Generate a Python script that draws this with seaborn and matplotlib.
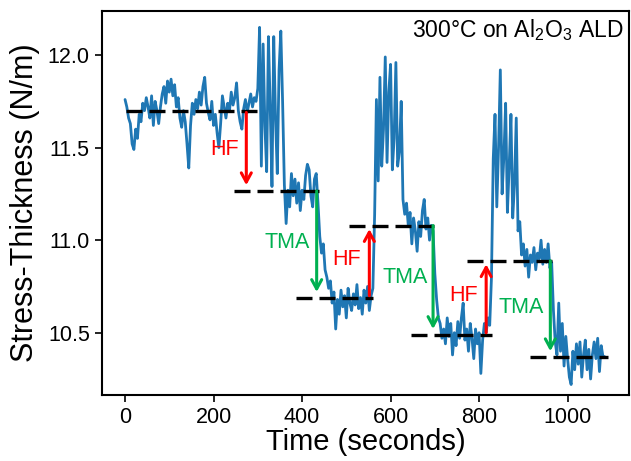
import numpy as np
import pandas as pd
import matplotlib
matplotlib.use("Agg")
import matplotlib.pyplot as plt
import seaborn as sns

# ---- data ----
time_s = np.arange(0, 1088, 4)
stress = [
    11.76, 11.72, 11.66, 11.63, 11.52, 11.49, 11.60, 11.55, 11.68, 11.64, 11.74, 11.70, 11.77, 11.72, 11.66, 11.78, 11.62, 11.75, 11.70, 11.63, 11.72, 11.79, 11.83, 11.74, 11.86,
    11.80, 11.87, 11.78, 11.84, 11.72, 11.77, 11.66, 11.61, 11.70, 11.64, 11.52, 11.39, 11.62, 11.74, 11.68, 11.76, 11.71, 11.80, 11.73, 11.83, 11.88, 11.74, 11.69, 11.65, 11.75,
    11.62, 11.68, 11.58, 11.50, 11.63, 11.78, 11.72, 11.66, 11.74, 11.70, 11.80, 11.73, 11.77, 11.85, 11.70, 11.64, 11.60, 11.71, 11.76, 11.69, 11.74, 11.79, 11.72, 11.77, 11.75,
    11.82, 12.15, 11.40, 12.06, 11.62, 11.37, 12.10, 11.72, 11.29, 12.10, 11.66, 11.36, 11.92, 12.13, 11.75, 11.30, 11.09, 11.27, 11.18, 11.36, 11.24, 11.33, 11.20, 11.31, 11.16,
    11.27, 11.22, 11.35, 11.41, 11.38, 11.24, 11.18, 11.33, 11.36, 11.20, 11.02, 10.93, 10.98, 10.84, 10.80, 10.74, 10.78, 10.66, 10.72, 10.52, 10.68, 10.60, 10.73, 10.64, 10.70,
    10.58, 10.74, 10.66, 10.62, 10.71, 10.65, 10.76, 10.63, 10.69, 10.60, 10.73, 10.66, 10.75, 10.62, 10.70, 10.74, 11.14, 11.76, 11.32, 11.88, 11.40, 11.60, 11.99, 11.42, 11.80,
    11.95, 11.38, 11.55, 11.96, 11.40, 11.48, 11.75, 11.22, 11.14, 11.20, 11.08, 11.15, 10.98, 11.12, 11.05, 10.94, 11.10, 11.02, 11.16, 11.22, 11.06, 11.12, 11.00, 11.08, 11.05,
    10.82, 10.68, 10.58, 10.55, 10.47, 10.52, 10.44, 10.58, 10.48, 10.55, 10.38, 10.50, 10.43, 10.56, 10.47, 10.58, 10.66, 10.46, 10.52, 10.40, 10.55, 10.47, 10.36, 10.52, 10.44,
    10.50, 10.28, 10.46, 10.55, 10.50, 10.58, 10.54, 10.80, 11.44, 11.68, 11.18, 11.50, 11.92, 11.25, 11.45, 11.74, 11.15, 11.40, 11.68, 11.12, 11.30, 11.66, 11.05, 11.10, 10.92,
    10.98, 10.86, 10.95, 10.80, 10.92, 10.88, 10.96, 10.84, 10.93, 10.90, 11.00, 10.87, 10.95, 10.88, 10.98, 10.85, 10.88, 10.62, 10.45, 10.38, 10.66, 10.40, 10.55, 10.32, 10.48,
    10.36, 10.26, 10.22, 10.40, 10.30, 10.44, 10.33, 10.45, 10.26, 10.38, 10.46, 10.30, 10.41, 10.25, 10.38, 10.45, 10.36, 10.47, 10.29, 10.43, 10.37, 10.37,
]

level_values = [11.70, 11.266, 10.686, 11.079, 10.489, 10.889, 10.369]
level_start = [3, 246, 386, 507, 647, 772, 914]
level_end = [303, 440, 561, 700, 829, 969, 1092]

arrow_labels = ["HF", "TMA", "HF", "TMA", "HF", "TMA"]
arrow_x = [274, 433, 552, 696, 816, 961]
arrow_from = [11.69, 11.266, 10.70, 11.079, 10.50, 10.889]
arrow_to = [11.297, 10.72, 11.06, 10.52, 10.87, 10.40]
label_x = [226, 366, 500, 632, 766, 896]
label_y = [11.49, 10.99, 10.893, 10.80, 10.70, 10.637]

df = pd.DataFrame({"Time (seconds)": time_s, "Stress-Thickness (N/m)": stress})

# ---- style ----
sns.set_theme(style="ticks")
plt.rcParams["font.family"] = ["Liberation Sans", "DejaVu Sans"]
plt.rcParams["mathtext.fontset"] = "custom"
plt.rcParams["mathtext.rm"] = "Liberation Sans"
plt.rcParams["mathtext.it"] = "Liberation Sans:italic"

fig = plt.figure(figsize=(6.31, 4.61), dpi=100)
ax = fig.add_axes([0.161, 0.143, 0.836, 0.833])

sns.lineplot(data=df, x="Time (seconds)", y="Stress-Thickness (N/m)", ax=ax,
             color="#1f77b4", linewidth=2.0)

for v, s, e in zip(level_values, level_start, level_end):
    ax.plot([s, e], [v, v], color="black", linewidth=2.4, linestyle=(0, (4.8, 2.1)))

red = "#ff0000"
green = "#00b050"
for lab, x, y0, y1, lx, ly in zip(arrow_labels, arrow_x, arrow_from, arrow_to, label_x, label_y):
    col = red if lab == "HF" else green
    ax.annotate("", xy=(x, y1), xytext=(x, y0),
                arrowprops=dict(arrowstyle="->,head_length=0.55,head_width=0.3",
                                color=col, lw=2.2, shrinkA=0, shrinkB=0))
    ax.text(lx, ly, lab, color=col, fontsize=15.5, ha="center", va="center")

ax.text(0.989, 0.931, r"300$\degree$C on Al$_2$O$_3$ ALD", transform=ax.transAxes,
        ha="right", va="baseline", fontsize=16.5, color="black")

ax.set_xlim(-53, 1139)
ax.set_ylim(10.163, 12.238)
ax.set_xticks([0, 200, 400, 600, 800, 1000])
ax.set_yticks([10.5, 11.0, 11.5, 12.0])
ax.set_yticklabels(["10.5", "11.0", "11.5", "12.0"])
ax.tick_params(axis="both", labelsize=15.5, length=5, width=1.2, color="black",
               labelcolor="black", direction="out")
ax.set_xlabel("Time (seconds)", fontsize=21, color="black", labelpad=0)
ax.set_ylabel("Stress-Thickness (N/m)", fontsize=22, color="black")
ax.yaxis.set_label_coords(-0.117, 0.5)
for sp in ax.spines.values():
    sp.set_color("black")
    sp.set_linewidth(1.5)

fig.savefig("out.png", dpi=100)
